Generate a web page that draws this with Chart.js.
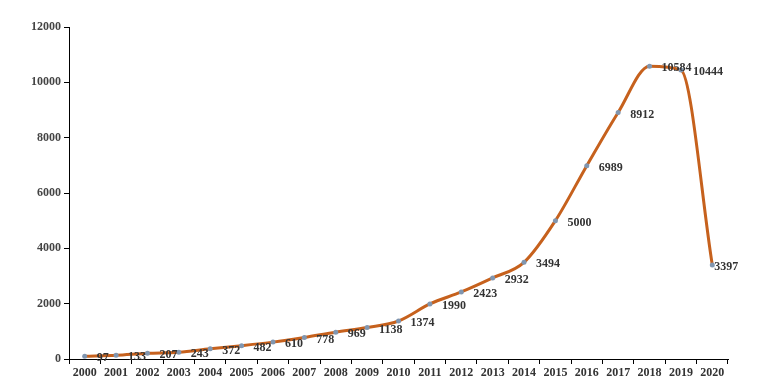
<!DOCTYPE html>
<html>
<head>
<meta charset="utf-8">
<script src="https://cdn.jsdelivr.net/npm/chart.js@4/dist/chart.umd.min.js"></script>
<style>
html,body{margin:0;padding:0;background:#ffffff;}
#wrap{width:776px;height:381px;position:relative;}
</style>
</head>
<body>
<div id="wrap"><canvas id="c" width="776" height="381"></canvas></div>
<script>
const years = ['2000','2001','2002','2003','2004','2005','2006','2007','2008','2009','2010','2011','2012','2013','2014','2015','2016','2017','2018','2019','2020'];
const counts = [97,133,207,243,372,482,610,778,969,1138,1374,1990,2423,2932,3494,5000,6989,8912,10584,10444,3397];
const yTicks = [0,2000,4000,6000,8000,10000,12000];

const FONT = {family: '"Liberation Serif", "Times New Roman", serif', size: 12, weight: 'bold'};

const valueLabels = {
  id: 'valueLabels',
  afterDatasetsDraw(chart) {
    const ctx = chart.ctx;
    const meta = chart.getDatasetMeta(0);
    ctx.save();
    ctx.font = 'bold 12px "Liberation Serif", "Times New Roman", serif';
    ctx.fillStyle = '#333333';
    ctx.textAlign = 'left';
    ctx.textBaseline = 'middle';
    const last = meta.data.length - 1;
    meta.data.forEach((pt, i) => {
      const dx = i === last ? 2 : 12;
      ctx.fillText(String(counts[i]), pt.x + dx, pt.y + 2);
    });
    ctx.restore();
  }
};

new Chart(document.getElementById('c'), {
  type: 'line',
  data: {
    labels: years,
    datasets: [{
      data: counts,
      borderColor: '#c6611d',
      borderWidth: 3,
      cubicInterpolationMode: 'monotone',
      pointRadius: 2.5,
      pointBackgroundColor: '#8096b0',
      pointBorderColor: '#8096b0',
      pointBorderWidth: 0,
      fill: false
    }]
  },
  options: {
    responsive: false,
    animation: false,
    devicePixelRatio: 1,
    layout: {padding: {top: 27, right: 48, left: 0, bottom: 0}},
    plugins: {legend: {display: false}, tooltip: {enabled: false}},
    scales: {
      x: {
        type: 'category',
        offset: true,
        grid: {display: true, offset: true, drawOnChartArea: false, drawTicks: true, tickLength: 5, color: '#000000', lineWidth: 1},
        border: {display: true, color: '#000000', width: 1},
        ticks: {color: '#333333', font: FONT, padding: 2, maxRotation: 0, autoSkip: false},
        afterFit(s) { s.height = 22; }
      },
      y: {
        min: 0, max: 12000,
        afterBuildTicks(s) { s.ticks = yTicks.map(v => ({value: v})); },
        grid: {display: true, drawOnChartArea: false, drawTicks: true, tickLength: 5, color: '#000000', lineWidth: 1},
        border: {display: true, color: '#000000', width: 1},
        ticks: {color: '#444444', font: FONT, padding: 3, callback: v => String(v)},
        afterFit(s) { s.width = 69; }
      }
    }
  },
  plugins: [valueLabels]
});
</script>
</body>
</html>
